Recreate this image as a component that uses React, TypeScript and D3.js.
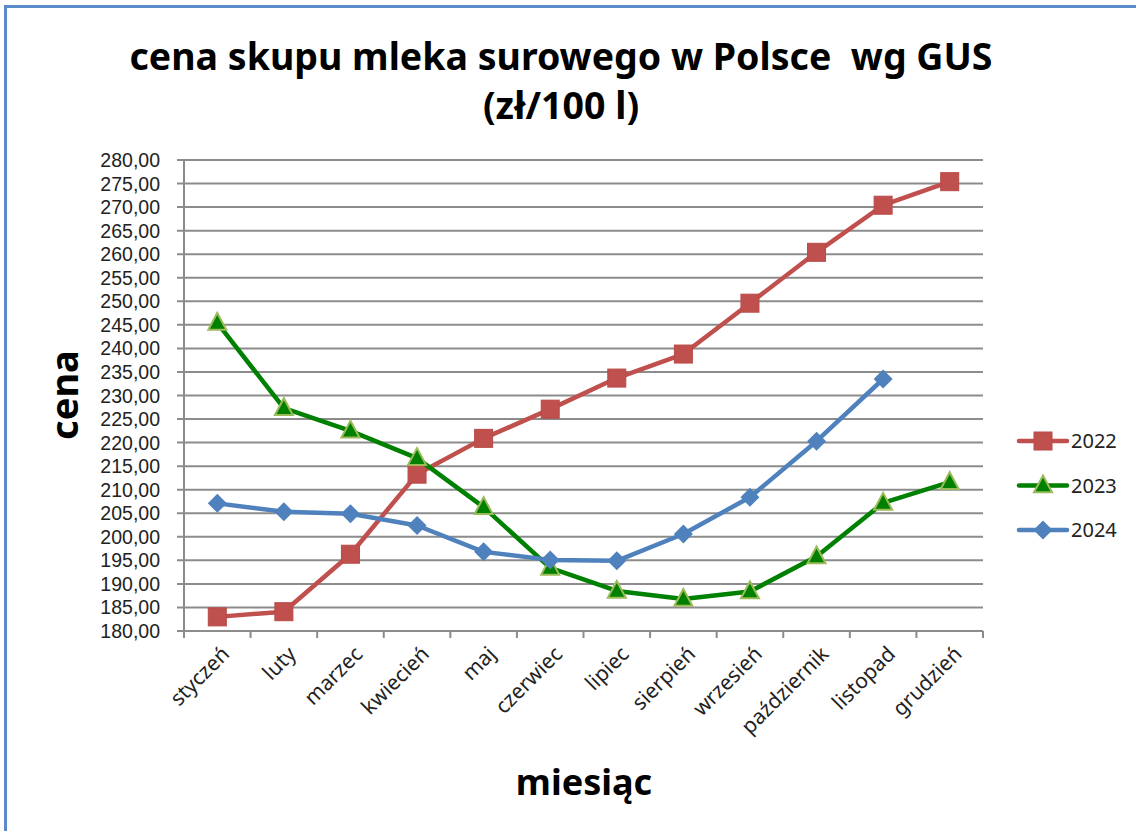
import React from 'react';
import * as d3 from 'd3';

const months = ['styczeń', 'luty', 'marzec', 'kwiecień', 'maj', 'czerwiec', 'lipiec', 'sierpień', 'wrzesień', 'październik', 'listopad', 'grudzień'];
const values2022 = [183.0, 184.1, 196.3, 213.3, 220.9, 227.1, 233.7, 238.8, 249.6, 260.4, 270.4, 275.4];
const values2023 = [245.4, 227.3, 222.5, 216.7, 206.3, 193.4, 188.5, 186.8, 188.4, 195.8, 207.2, 211.6];
const values2024 = [207.1, 205.3, 204.9, 202.4, 196.8, 195.1, 194.9, 200.6, 208.4, 220.3, 233.5];
const yTicks = d3.range(180, 281, 5);

const series = [
  { name: '2022', values: values2022, color: '#C0504D', marker: 'square' },
  { name: '2023', values: values2023, color: '#008000', marker: 'triangle' },
  { name: '2024', values: values2024, color: '#4F81BD', marker: 'diamond' },
];

const W = 1136;
const H = 831;
const plot = { left: 184, right: 983, top: 160, bottom: 631 };
const font = '"Noto Sans", "Open Sans", sans-serif';
const tickFont = '"Liberation Sans", Arial, sans-serif';

const Marker = ({ type, x, y, color }: { type: string; x: number; y: number; color: string }) => {
  if (type === 'square') {
    return <rect x={x - 9} y={y - 9} width={18} height={18} fill={color} stroke="#B84A47" strokeWidth={1} />;
  }
  if (type === 'triangle') {
    const s = 9;
    return (
      <path
        d={`M${x},${y - s - 1} L${x + s},${y + s * 0.75} L${x - s},${y + s * 0.75} Z`}
        fill={color}
        stroke="#9BBB59"
        strokeWidth={2}
      />
    );
  }
  const s = 9.5;
  return <path d={`M${x},${y - s} L${x + s},${y} L${x},${y + s} L${x - s},${y} Z`} fill={color} />;
};

const App = () => {
  const x = d3.scaleBand<string>().domain(months).range([plot.left, plot.right]);
  const y = d3.scaleLinear().domain([180, 280]).range([plot.bottom, plot.top]);
  const cx = (m: string) => (x(m) as number) + x.bandwidth() / 2;

  const line = d3
    .line<number>()
    .x((_, i) => cx(months[i]))
    .y((d) => y(d));

  const xTickPos = months.map((m) => x(m) as number).concat([plot.right]);

  return (
    <svg width={W} height={H} style={{ position: 'absolute', left: 0, top: 0, background: '#fff' }} fontFamily={font}>
      {/* outer frame */}
      <rect x={5.5} y={6.5} width={W + 20} height={H + 20} fill="none" stroke="#5B8BCB" strokeWidth={3} />

      {/* title */}
      <text x={561} y={70} textAnchor="middle" fontSize={37.5} fontWeight="bold" fill="#000">
        cena skupu mleka surowego w Polsce{'\u00a0\u00a0'}wg GUS
      </text>
      <text x={561} y={119} textAnchor="middle" fontSize={37.5} fontWeight="bold" fill="#000">
        (zł/100 l)
      </text>

      {/* gridlines */}
      {yTicks.map((t) => (
        <g key={t}>
          <line x1={plot.left - 7} x2={plot.right} y1={y(t)} y2={y(t)} stroke="#8C8C8C" strokeWidth={2} />
          <text x={160} y={y(t)} dy="0.36em" textAnchor="end" fontSize={19.5} fill="#222" fontFamily={tickFont}>
            {d3.format('.2f')(t).replace('.', ',')}
          </text>
        </g>
      ))}

      {/* axes */}
      <line x1={plot.left} x2={plot.left} y1={plot.top} y2={plot.bottom} stroke="#8C8C8C" strokeWidth={2} />
      {xTickPos.map((p, i) => (
        <line key={i} x1={p} x2={p} y1={plot.bottom} y2={plot.bottom + 7} stroke="#8C8C8C" strokeWidth={2} />
      ))}

      {months.map((m) => (
        <text
          key={m}
          transform={`translate(${cx(m) + 3},${plot.bottom + 14}) rotate(-45)`}
          textAnchor="end"
          dy="0.7em"
          fontSize={21}
          fill="#222"
        >
          {m}
        </text>
      ))}

      {/* series */}
      {series.map((s) => (
        <g key={s.name}>
          <path d={line(s.values) as string} fill="none" stroke={s.color} strokeWidth={4.5} strokeLinejoin="round" />
          {s.values.map((v, i) => (
            <Marker key={i} type={s.marker} x={cx(months[i])} y={y(v)} color={s.color} />
          ))}
        </g>
      ))}

      {/* legend */}
      {series.map((s, i) => {
        const ly = 441 + i * 44.5;
        return (
          <g key={s.name}>
            <line x1={1019} x2={1067} y1={ly} y2={ly} stroke={s.color} strokeWidth={4.5} strokeLinecap="round" />
            <Marker type={s.marker} x={1043} y={ly} color={s.color} />
            <text x={1071} y={ly} dy="0.36em" fontSize={20} fill="#222">
              {s.name}
            </text>
          </g>
        );
      })}

      {/* axis titles */}
      <text transform="translate(78,395) rotate(-90)" textAnchor="middle" fontSize={38} fontWeight="bold" fill="#000">
        cena
      </text>
      <text x={584} y={795} textAnchor="middle" fontSize={36} fontWeight="bold" fill="#000">
        miesiąc
      </text>
    </svg>
  );
};

export default App;
